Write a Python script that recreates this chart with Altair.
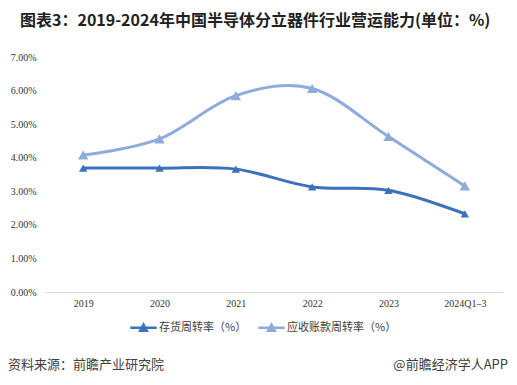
import altair as alt
import pandas as pd

years = ["2019", "2020", "2021", "2022", "2023", "2024Q1-3"]
year_labels = ["2019", "2020", "2021", "2022", "2023", "2024Q1\u20133"]
inventory = [3.69, 3.69, 3.66, 3.13, 3.03, 2.33]
receivable = [4.08, 4.56, 5.85, 6.06, 4.63, 3.16]
series_names = ["存货周转率（%）", "应收账款周转率（%）"]
colors = ["#3A72BE", "#8FAADC"]
title_text = "图表3：2019-2024年中国半导体分立器件行业营运能力(单位：%)"
source_text = "资料来源：前瞻产业研究院"
brand_text = "@前瞻经济学人APP"

rows = []
for lab, a, b in zip(year_labels, inventory, receivable):
    rows.append({"year": lab, "series": series_names[0], "value": a})
    rows.append({"year": lab, "series": series_names[1], "value": b})
df = pd.DataFrame(rows)

W, H = 458, 235
FONT = "Noto Sans CJK SC"

x_enc = alt.X("year:N", sort=year_labels, title=None,
              scale=alt.Scale(type="point", padding=0.5),
              axis=alt.Axis(labelAngle=0, ticks=False, domainColor="#D9D9D9",
                            domainWidth=1, labelFont="Liberation Serif",
                            labelFontSize=10, labelColor="#333333", labelPadding=6,
                            grid=False))
y_enc = alt.Y("value:Q", title=None,
              scale=alt.Scale(domain=[0, 7], nice=False),
              axis=alt.Axis(values=[0, 1, 2, 3, 4, 5, 6, 7], domain=False, ticks=False,
                            grid=False, labelExpr="format(datum.value, '.2f') + '%'",
                            labelFont="Liberation Serif", labelFontSize=10,
                            labelColor="#333333", labelPadding=9))
color_enc = alt.Color("series:N", scale=alt.Scale(domain=series_names, range=colors),
                      legend=alt.Legend(title=None, orient="none", direction="horizontal",
                                        legendX=84, legendY=256,
                                        symbolType="M-1,0H1M-0.25,0.22L0,-0.24L0.25,0.22Z",
                                        symbolSize=700, symbolStrokeWidth=2.5,
                                        labelFont=FONT, labelFontSize=11,
                                        labelColor="#404040", columnPadding=6,
                                        labelOffset=1))

line = alt.Chart(df).mark_line(interpolate="cardinal", strokeWidth=3).encode(
    x=x_enc, y=y_enc, color=color_enc)
pts = alt.Chart(df).mark_point(shape="triangle-up", filled=True, opacity=1).encode(
    x=x_enc, y=y_enc, color=alt.Color("series:N", legend=None,
                                      scale=alt.Scale(domain=series_names, range=colors)),
    size=alt.Size("series:N", legend=None,
                  scale=alt.Scale(domain=series_names, range=[70, 110])))

src = alt.Chart(pd.DataFrame({"t": [source_text]})).mark_text(
    align="left", baseline="middle", font=FONT, fontSize=13, color="#404040").encode(
    text="t:N", x=alt.value(-37), y=alt.value(308))
brand = alt.Chart(pd.DataFrame({"t": [brand_text]})).mark_text(
    align="right", baseline="middle", font=FONT, fontSize=13, color="#404040").encode(
    text="t:N", x=alt.value(463), y=alt.value(308))

chart = alt.layer(line, pts, src, brand).properties(
    width=W, height=H,
    title=alt.TitleParams(title_text, anchor="start", frame="group", font=FONT,
                          fontSize=16, fontWeight="bold", color="#222222",
                          dx=-25, offset=23),
    autosize=alt.AutoSizeParams(type="none"),
    padding={"left": 37, "top": 49, "right": 6, "bottom": 85},
).configure_view(stroke=None).resolve_scale(size="independent")

chart.save("out.html", embed_options={"renderer": "svg", "actions": False})
